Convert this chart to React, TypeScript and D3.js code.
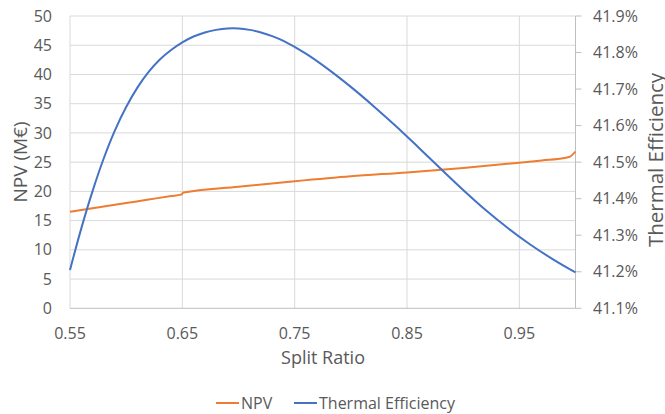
import * as d3 from "d3";

const npvSplit = [0.55, 0.57, 0.6, 0.62, 0.64, 0.649, 0.651, 0.7, 0.75, 0.8, 0.85, 0.9, 0.95, 0.97, 0.99, 0.995, 1.0];
const npvValues = [16.5, 17.1, 18.0, 18.6, 19.2, 19.45, 19.8, 20.8, 21.75, 22.6, 23.25, 24.0, 24.9, 25.3, 25.7, 25.95, 26.8];

const effSplit = [0.55, 0.56, 0.57, 0.58, 0.59, 0.6, 0.61, 0.62, 0.63, 0.64, 0.65, 0.66, 0.67, 0.68, 0.69, 0.7, 0.71, 0.72, 0.73, 0.74, 0.76, 0.78, 0.8, 0.82, 0.84, 0.86, 0.88, 0.9, 0.92, 0.94, 0.96, 0.98, 1.0];
const effValues = [41.205, 41.318, 41.42, 41.51, 41.587, 41.651, 41.704, 41.747, 41.781, 41.807, 41.828, 41.844, 41.855, 41.862, 41.866, 41.866, 41.862, 41.855, 41.845, 41.832, 41.797, 41.754, 41.706, 41.654, 41.599, 41.541, 41.482, 41.424, 41.369, 41.319, 41.274, 41.234, 41.198];

const xTicks = [0.55, 0.65, 0.75, 0.85, 0.95];
const npvTicks = [0, 5, 10, 15, 20, 25, 30, 35, 40, 45, 50];
const effTicks = [41.1, 41.2, 41.3, 41.4, 41.5, 41.6, 41.7, 41.8, 41.9];

const W = 665, H = 414;
const m = { left: 70, right: 575.5, top: 16, bottom: 308.3 };
const font = "'Open Sans', sans-serif";
const textColor = "#595959";

export default function App() {
  const x = d3.scaleLinear().domain([0.55, 1.0]).range([m.left, m.right]);
  const yL = d3.scaleLinear().domain([0, 50]).range([m.bottom, m.top]);
  const yR = d3.scaleLinear().domain([41.1, 41.9]).range([m.bottom, m.top]);

  const npvLine = d3.line<number>()
    .x((_, i) => x(npvSplit[i]))
    .y((d) => yL(d))
    .curve(d3.curveMonotoneX)(npvValues) || "";
  const effLine = d3.line<number>()
    .x((_, i) => x(effSplit[i]))
    .y((d) => yR(d))
    .curve(d3.curveCatmullRom)(effValues) || "";

  return (
    <svg width={W} height={H} style={{ position: "absolute", left: 0, top: 0, background: "white" }} fontFamily={font}>
      {/* grid */}
      {npvTicks.slice(1).map((t) => (
        <line key={"h" + t} x1={m.left} x2={m.right} y1={yL(t)} y2={yL(t)} stroke="#D9D9D9" strokeWidth={1} />
      ))}
      {xTicks.map((t) => (
        <line key={"v" + t} x1={x(t)} x2={x(t)} y1={m.top} y2={m.bottom} stroke="#D9D9D9" strokeWidth={1} />
      ))}
      {/* axes */}
      <line x1={m.left} x2={m.right} y1={m.bottom} y2={m.bottom} stroke="#BFBFBF" strokeWidth={1} />
      <line x1={m.right} x2={m.right} y1={m.top} y2={m.bottom} stroke="#BFBFBF" strokeWidth={1} />
      {effTicks.map((t) => (
        <line key={"rt" + t} x1={m.right} x2={m.right + 6} y1={yR(t)} y2={yR(t)} stroke="#BFBFBF" strokeWidth={1} />
      ))}

      {/* tick labels */}
      {npvTicks.map((t) => (
        <text key={"l" + t} x={52} y={yL(t)} dy="0.35em" textAnchor="end" fontSize={16} fill={textColor}>{t}</text>
      ))}
      {effTicks.map((t) => (
        <text key={"r" + t} x={593} y={yR(t)} dy="0.35em" textAnchor="start" fontSize={16} fill={textColor}>{t.toFixed(1) + "%"}</text>
      ))}
      {xTicks.map((t) => (
        <text key={"x" + t} x={x(t)} y={339} textAnchor="middle" fontSize={16} fill={textColor}>{t.toFixed(2)}</text>
      ))}

      {/* titles */}
      <text x={323} y={364} textAnchor="middle" fontSize={18} fill={textColor}>Split Ratio</text>
      <text transform="translate(27,162) rotate(-90)" textAnchor="middle" fontSize={19} fill={textColor}>NPV (M€)</text>
      <text transform="translate(663,160) rotate(-90)" textAnchor="middle" fontSize={20.5} fill={textColor}>Thermal Efficiency</text>

      {/* series */}
      <path d={npvLine} fill="none" stroke="#ED7D31" strokeWidth={2} />
      <path d={effLine} fill="none" stroke="#4472C4" strokeWidth={2} />

      {/* legend */}
      <line x1={216} x2={239} y1={403} y2={403} stroke="#ED7D31" strokeWidth={2} />
      <text x={241} y={408.5} fontSize={16} fill={textColor}>NPV</text>
      <line x1={294} x2={317} y1={403} y2={403} stroke="#4472C4" strokeWidth={2} />
      <text x={319} y={408.5} fontSize={16} fill={textColor}>Thermal Efficiency</text>
    </svg>
  );
}
